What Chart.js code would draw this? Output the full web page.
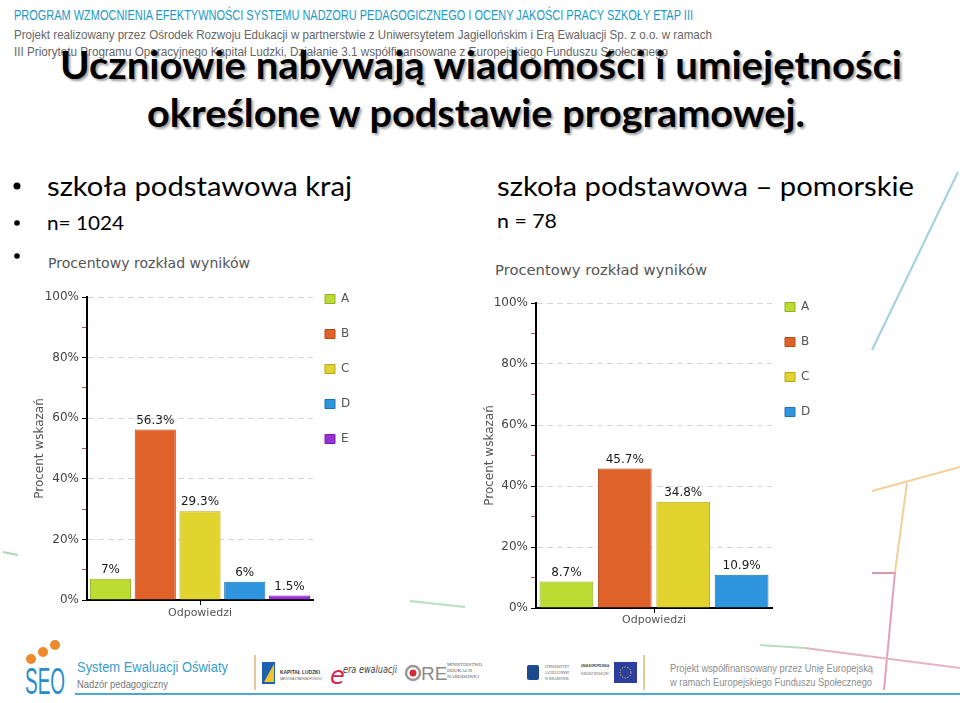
<!DOCTYPE html>
<html>
<head>
<meta charset="utf-8">
<script src="https://cdn.jsdelivr.net/npm/chart.js@4/dist/chart.umd.min.js"></script>
<style>
  body { margin: 0; background: #fff; }
  #slide { position: relative; width: 960px; height: 703px; overflow: hidden; background: #fff; }
  #slide svg { position: absolute; left: 0; top: 0; }
  canvas { position: absolute; }
  #kraj { left: 20px; top: 280px; }
  #pom { left: 470px; top: 287px; }
</style>
</head>
<body>
<div id="slide">
<svg width="960" height="703" viewBox="0 0 960 703">
  <defs>
    <filter id="soft" x="-5%" y="-30%" width="110%" height="160%">
      <feGaussianBlur stdDeviation="1.2"/>
    </filter>
  </defs>
  <!-- decorative lines -->
  <g fill="none" stroke-width="2">
    <line x1="958" y1="172" x2="872" y2="350" stroke="#9fd0e2"/>
    <line x1="872" y1="491" x2="960" y2="467" stroke="#f5cf98"/>
    <line x1="907" y1="483" x2="895" y2="572" stroke="#f5cf98"/>
    <line x1="872" y1="573" x2="896" y2="573" stroke="#d997aa"/>
    <line x1="895" y1="572" x2="884" y2="690" stroke="#e0a3b3"/>
    <line x1="3" y1="552" x2="18" y2="555" stroke="#a8d8ae"/>
    <line x1="410" y1="601" x2="465" y2="607" stroke="#b5dfbb"/>
    <line x1="760" y1="645" x2="805" y2="648" stroke="#b5dfbb"/>
    <line x1="805" y1="648" x2="960" y2="668" stroke="#e6b3c0"/>
  </g>
  <!-- header -->
  <text x="14" y="20" font-family="Liberation Sans Narrow, Liberation Sans" font-size="14" fill="#1c9ac4" textLength="679" lengthAdjust="spacingAndGlyphs">PROGRAM WZMOCNIENIA EFEKTYWNOŚCI SYSTEMU NADZORU PEDAGOGICZNEGO I OCENY JAKOŚCI PRACY SZKOŁY ETAP III</text>
  <text x="14" y="39" font-family="Liberation Sans Narrow, Liberation Sans" font-size="13" fill="#666" textLength="698" lengthAdjust="spacingAndGlyphs">Projekt realizowany przez Ośrodek Rozwoju Edukacji w partnerstwie z Uniwersytetem Jagiellońskim i Erą Ewaluacji Sp. z o.o. w ramach</text>
  <text x="14" y="56" font-family="Liberation Sans Narrow, Liberation Sans" font-size="13" fill="#666" textLength="654" lengthAdjust="spacingAndGlyphs">III Priorytetu Programu Operacyjnego Kapitał Ludzki, Działanie 3.1 współfinansowane z Europejskiego Funduszu Społecznego</text>
  <!-- title -->
  <g font-family="Lato" font-weight="700" font-size="39">
    <g filter="url(#soft)" fill="#777" opacity="0.7">
      <text x="62" y="81" textLength="842" lengthAdjust="spacingAndGlyphs">Uczniowie nabywają wiadomości i umiejętności</text>
      <text x="149" y="129" textLength="658" lengthAdjust="spacingAndGlyphs">określone w podstawie programowej.</text>
    </g>
    <text x="60" y="79" fill="#000" textLength="842" lengthAdjust="spacingAndGlyphs">Uczniowie nabywają wiadomości i umiejętności</text>
    <text x="147" y="127" fill="#000" textLength="658" lengthAdjust="spacingAndGlyphs">określone w podstawie programowej.</text>
  </g>
  <!-- bullets -->
  <g font-family="Lato" fill="#000">
    <circle cx="17" cy="186" r="3.5"/>
    <circle cx="17" cy="223" r="2.8"/>
    <circle cx="17" cy="256" r="2.8"/>
    <text x="47" y="196" font-size="27" textLength="305" lengthAdjust="spacingAndGlyphs">szkoła podstawowa kraj</text>
    <text x="47" y="230" font-size="19" textLength="77" lengthAdjust="spacingAndGlyphs">n= 1024</text>
    <text x="497" y="196" font-size="27" textLength="417" lengthAdjust="spacingAndGlyphs">szkoła podstawowa – pomorskie</text>
    <text x="497" y="228" font-size="19" textLength="60" lengthAdjust="spacingAndGlyphs">n = 78</text>
  </g>
  <!-- chart captions -->
  <g font-family="DejaVu Sans" font-size="14" fill="#555">
    <text x="48" y="268" textLength="202" lengthAdjust="spacingAndGlyphs">Procentowy rozkład  wyników</text>
    <text x="495" y="275" textLength="212" lengthAdjust="spacingAndGlyphs">Procentowy rozkład  wyników</text>
  </g>
  <!-- footer -->
  <g>
    <circle cx="31" cy="659" r="5" fill="#ee8a2c"/>
    <circle cx="43" cy="652" r="5" fill="#ee8a2c"/>
    <circle cx="55" cy="645" r="5" fill="#ee8a2c"/>
    <text x="25" y="694" font-family="Liberation Sans Narrow, Liberation Sans" font-size="36" fill="#2b8ecb" textLength="40" lengthAdjust="spacingAndGlyphs">SEO</text>
    <text x="77" y="672" font-family="Liberation Sans" font-size="15" fill="#3a9ccb" textLength="151" lengthAdjust="spacingAndGlyphs">System Ewaluacji Oświaty</text>
    <text x="77" y="688" font-family="Liberation Sans" font-size="11" fill="#777" textLength="91" lengthAdjust="spacingAndGlyphs">Nadzór pedagogiczny</text>
    <line x1="255" y1="655" x2="255" y2="690" stroke="#e7b27a" stroke-width="1.5"/>
    <rect x="262" y="662" width="13" height="22" fill="#1f5fb0"/>
    <polygon points="264,682 274,664 274,682" fill="#f2c12e"/>
    <text x="280" y="674" font-family="Liberation Sans" font-size="6" font-weight="700" fill="#333" textLength="40" lengthAdjust="spacingAndGlyphs">KAPITAŁ LUDZKI</text>
    <text x="280" y="680" font-family="Liberation Sans" font-size="3" fill="#555" textLength="42" lengthAdjust="spacingAndGlyphs">NARODOWA STRATEGIA SPÓJNOŚCI</text>
    <text x="330" y="684" font-family="DejaVu Sans" font-size="24" font-style="italic" fill="#d2284a">e</text>
    <text x="343" y="673" font-family="DejaVu Sans" font-size="11" font-style="italic" fill="#444" textLength="54" lengthAdjust="spacingAndGlyphs">era ewaluacji</text>
    <circle cx="413" cy="673" r="7" fill="none" stroke="#999" stroke-width="2.5"/>
    <circle cx="413" cy="673" r="3.5" fill="#d32a3a"/>
    <text x="421" y="680" font-family="Liberation Sans" font-size="19" fill="#8a8a8a">RE</text>
    <text x="447" y="666" font-family="Liberation Serif" font-size="5" fill="#555" textLength="35" lengthAdjust="spacingAndGlyphs">MINISTERSTWO</text>
    <text x="447" y="672" font-family="Liberation Serif" font-size="5" fill="#555" textLength="25" lengthAdjust="spacingAndGlyphs">EDUKACJI</text>
    <text x="447" y="678" font-family="Liberation Serif" font-size="5" fill="#555" textLength="32" lengthAdjust="spacingAndGlyphs">NARODOWEJ</text>
    <rect x="527" y="665" width="12" height="15" rx="2" fill="#1d4a8c"/>
    <text x="545" y="668" font-family="Liberation Serif" font-size="4" fill="#555" textLength="24" lengthAdjust="spacingAndGlyphs">UNIWERSYTET</text>
    <text x="545" y="674" font-family="Liberation Serif" font-size="4" fill="#555" textLength="24" lengthAdjust="spacingAndGlyphs">JAGIELLOŃSKI</text>
    <text x="545" y="680" font-family="Liberation Serif" font-size="4" fill="#555" textLength="24" lengthAdjust="spacingAndGlyphs">W KRAKOWIE</text>
    <text x="581" y="667" font-family="Liberation Sans" font-size="4" font-weight="700" fill="#333" textLength="28" lengthAdjust="spacingAndGlyphs">UNIA EUROPEJSKA</text>
    <text x="581" y="675" font-family="Liberation Sans" font-size="4" fill="#555" textLength="28" lengthAdjust="spacingAndGlyphs">FUNDUSZ SPOŁECZNY</text>
    <rect x="614" y="662" width="23" height="21" fill="#2c3f9e"/>
    <circle cx="625.5" cy="672.5" r="5.5" fill="none" stroke="#f2d330" stroke-width="1" stroke-dasharray="1.2 1.5"/>
    <line x1="644" y1="655" x2="644" y2="690" stroke="#e7b27a" stroke-width="1.5"/>
    <text x="670" y="672" font-family="Liberation Sans" font-size="11" fill="#8d8d8d" textLength="203" lengthAdjust="spacingAndGlyphs">Projekt współfinansowany przez Unię Europejską</text>
    <text x="670" y="686" font-family="Liberation Sans" font-size="11" fill="#8d8d8d" textLength="202" lengthAdjust="spacingAndGlyphs">w ramach Europejskiego Funduszu Społecznego</text>
    <line x1="75" y1="694" x2="960" y2="694" stroke="#4aa9d3" stroke-width="2"/>
  </g>
</svg>
<canvas id="kraj" width="348" height="350"></canvas>
<canvas id="pom" width="357" height="351"></canvas>
</div>
<script>
"use strict";

// answer categories (legend entries)
const answers = ["A", "B", "C", "D", "E"];
// percentages, szkoła podstawowa kraj (n = 1024)
const krajValues = [7, 56.3, 29.3, 6, 1.5];
// percentages, szkoła podstawowa pomorskie (n = 78)
const pomorskieValues = [8.7, 45.7, 34.8, 10.9];
const xTitle = "Odpowiedzi";
const yTitle = "Procent wskazań";

const fills = ["#bcdc33", "#e0622b", "#e1d42e", "#2f95de", "#9a2fd8"];
const edges = ["#92ae22", "#b24a1c", "#b3a71f", "#1f71b2", "#7420a8"];

Chart.defaults.font.family = "DejaVu Sans";

// percent above every bar
const valueLabels = {
  id: "valueLabels",
  afterDatasetsDraw(chart) {
    const ctx = chart.ctx;
    ctx.save();
    ctx.font = "12px 'DejaVu Sans'";
    ctx.fillStyle = "#1a1a1a";
    ctx.textAlign = "center";
    ctx.textBaseline = "bottom";
    chart.data.datasets.forEach((ds, i) => {
      chart.getDatasetMeta(i).data.forEach((bar, j) => {
        ctx.fillText(ds.data[j] + "%", bar.x, bar.y - 3);
      });
    });
    ctx.restore();
  }
};

// pull the legend a bit closer to the plot and up to the top line
const legendNudge = {
  id: "legendNudge",
  afterLayout(chart, args, opts) {
    const lg = chart.legend;
    if (!lg) return;
    lg.left += opts.dx; lg.right += opts.dx;
    lg.top += opts.dy; lg.bottom += opts.dy;
  }
};

function makeChart(id, values, o) {
  const datasets = values.map((v, i) => ({
    label: answers[i],
    data: [v],
    backgroundColor: fills[i],
    borderColor: edges[i],
    borderWidth: 1,
    categoryPercentage: 0.99,
    barPercentage: 0.92
  }));
  return new Chart(document.getElementById(id), {
    type: "bar",
    data: { labels: [""], datasets: datasets },
    plugins: [valueLabels, legendNudge],
    options: {
      responsive: false,
      animation: false,
      events: [],
      layout: { padding: { top: o.top, left: 0, right: 0, bottom: 0 } },
      plugins: {
        tooltip: { enabled: false },
        title: { display: false },
        legendNudge: { dx: o.dx, dy: o.dy },
        legend: {
          position: "right",
          align: "start",
          maxWidth: 55,
          labels: {
            boxWidth: 10,
            boxHeight: 9,
            padding: 23,
            color: "#555",
            font: { size: 12 }
          }
        }
      },
      scales: {
        x: {
          grid: { drawOnChartArea: false, offset: false, tickColor: "#000", tickLength: 5 },
          border: { color: "#000", width: 2 },
          ticks: { font: { size: 11 } },
          title: { display: true, text: xTitle, color: "#555", font: { size: 11 }, padding: { top: 0, bottom: o.xPad } },
          afterFit(s) { s.height = 30; }
        },
        y: {
          min: 0,
          max: 100,
          ticks: {
            stepSize: 10,
            autoSkip: false,
            padding: 3,
            color: "#444",
            font: { size: 12 },
            callback: (v) => (v % 20 === 0 ? v + "%" : "")
          },
          grid: {
            color: (c) => (c.tick && c.tick.value % 20 === 0 && c.tick.value > 0 ? "#d6d6d6" : "rgba(0,0,0,0)"),
            tickColor: (c) => (c.tick && c.tick.value % 20 === 0 ? "#000" : "#d04848"),
            tickLength: 5
          },
          border: { color: "#000", width: 2, dash: [6, 4] },
          title: { display: true, text: yTitle, color: "#555", font: { size: 12 }, padding: { top: 13, bottom: 0 } },
          afterFit(s) { s.width = o.yWidth; }
        }
      }
    }
  });
}

makeChart("kraj", krajValues, { top: 17, yWidth: 67, xPad: 10, dx: -11, dy: -27 });
makeChart("pom", pomorskieValues, { top: 16, yWidth: 66, xPad: 11, dx: -10, dy: -25 });
</script>
</body>
</html>
